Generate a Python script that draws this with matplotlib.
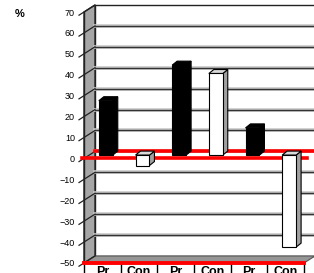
import matplotlib.pyplot as plt
from matplotlib.patches import Polygon

plt.rcParams["font.family"] = ["Liberation Sans", "DejaVu Sans"]

categories = ["Pr", "Con", "Pr", "Con", "Pr", "Con"]
values = [26, -5, 43, 39, 13, -44]
bar_colors = ["black", "white", "black", "white", "black", "white"]
y_ticks = list(range(-50, 71, 10))

y_min, y_max = -50, 70
n = len(categories)

# depth of the 3d box (data units): back wall offset and bar offset
wall_dx, wall_dy = 0.30, 3.35
bar_dx, bar_dy = 0.145, 1.6
side_dx, side_dy = 0.136, 1.9
bar_width = 0.38
bar_center = 0.45

figure = plt.figure(figsize=(3.14, 2.73), dpi=100)
ax = figure.add_axes([84 / 314, 10 / 273, 220 / 314, 251 / 273])
ax.set_xlim(0, n)
ax.set_ylim(y_min, y_max)
for spine in ax.spines.values():
    spine.set_visible(False)
ax.patch.set_visible(False)

# back wall
ax.add_patch(Polygon([(wall_dx, y_min + wall_dy), (n + wall_dx + 1, y_min + wall_dy),
                      (n + wall_dx + 1, y_max + wall_dy), (wall_dx, y_max + wall_dy)],
                     closed=True, facecolor="white", edgecolor="#222222", lw=1.0, clip_on=False, zorder=0))
# left wall
ax.add_patch(Polygon([(0, y_min), (0, y_max), (wall_dx, y_max + wall_dy), (wall_dx, y_min + wall_dy)],
                     closed=True, facecolor="#a6a6a6", edgecolor="#222222", lw=1.0, clip_on=False, zorder=1))
# floor
ax.add_patch(Polygon([(0, y_min), (n, y_min), (n + wall_dx, y_min + wall_dy), (wall_dx, y_min + wall_dy)],
                     closed=True, facecolor="#969696", edgecolor="#555555", lw=0.8, clip_on=False, zorder=1))

# gridlines on back wall and left wall, extending out as slanted ticks
tick_dx = -0.136
tick_dy = tick_dx * wall_dy / wall_dx
for v in y_ticks:
    if y_min < v < y_max:
        ax.plot([wall_dx, n + wall_dx + 1], [v + wall_dy, v + wall_dy], color="#c8c8c8", lw=2.6,
                clip_on=False, zorder=2)
        ax.plot([wall_dx, n + wall_dx + 1], [v + wall_dy, v + wall_dy], color="#333333", lw=1.0,
                clip_on=False, zorder=2)
    ax.plot([tick_dx, wall_dx], [v + tick_dy, v + wall_dy], color="#222222", lw=0.9,
            clip_on=False, zorder=3)
ax.plot([0, 0], [y_min, y_max], color="#222222", lw=1.0, clip_on=False, zorder=3)

# red zero lines (back and front) and bottom line
ax.plot([wall_dx, n + wall_dx + 1], [wall_dy, wall_dy], color="red", lw=2.6, clip_on=False, zorder=3)
ax.plot([-0.05, n + 0.08], [0, 0], color="red", lw=2.6, clip_on=False, zorder=3)
ax.plot([0, n], [y_min, y_min], color="red", lw=2.8, clip_on=False, zorder=4)

# 3d columns
for i, (v, c) in enumerate(zip(values, bar_colors)):
    x0 = i + bar_center - bar_width / 2 + bar_dx
    x1 = x0 + bar_width
    lo = min(0, v) + bar_dy
    hi = max(0, v) + bar_dy
    side_color = "black" if c == "black" else "#a0a0a0"
    top_color = "black" if c == "black" else "#d9d9d9"
    ax.add_patch(Polygon([(x1, lo), (x1 + side_dx, lo + side_dy), (x1 + side_dx, hi + side_dy), (x1, hi)],
                         closed=True, facecolor=side_color, edgecolor="black", lw=0.8, zorder=5))
    ax.add_patch(Polygon([(x0, hi), (x1, hi), (x1 + side_dx, hi + side_dy), (x0 + side_dx, hi + side_dy)],
                         closed=True, facecolor=top_color, edgecolor="black", lw=0.8, zorder=5))
    ax.add_patch(Polygon([(x0, lo), (x1, lo), (x1, hi), (x0, hi)],
                         closed=True, facecolor=c, edgecolor="black", lw=0.8, zorder=6))

# axes ticks and labels
ax.set_yticks(y_ticks)
ax.tick_params(axis="y", length=0, pad=6.5, labelsize=6.5)
ax.set_xticks([i + 0.5 for i in range(n)])
ax.set_xticklabels(categories, fontweight="bold", fontsize=9)
ax.tick_params(axis="x", length=0, pad=2.5)
ax.set_xticks(range(n + 1), minor=True)
ax.tick_params(axis="x", which="minor", length=12, width=1.0, color="black", direction="out")

figure.text(20 / 314, 1 - 14 / 273, "%", fontsize=8, fontweight="bold", ha="center", va="center")

figure.savefig("out.png", dpi=100)
plt.close(figure)
